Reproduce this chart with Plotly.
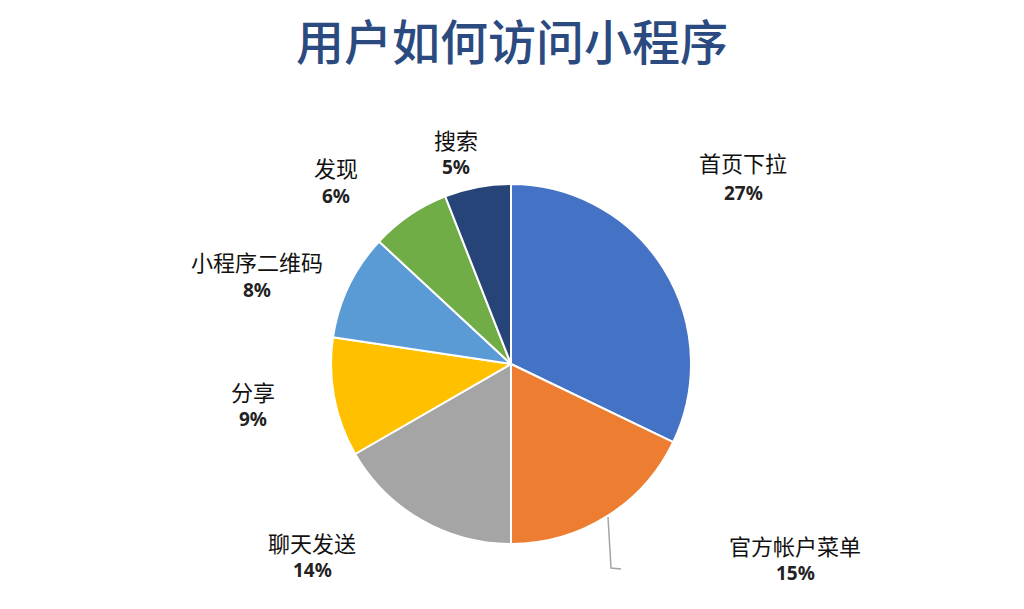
import plotly.graph_objects as go

# data
labels = ["首页下拉", "官方帐户菜单", "聊天发送", "分享", "小程序二维码", "发现", "搜索"]
values = [27, 15, 14, 9, 8, 6, 5]
colors = ["#4472C4", "#ED7D31", "#A5A5A5", "#FFC000", "#5B9BD5", "#70AD47", "#264478"]

# label placement in pixels: x centre, y of name line, y of percent line
label_px = [(743, 162, 193), (795, 545, 573), (312, 542, 570), (253, 391, 419),
            (257, 261, 290), (336, 167, 196), (456, 139, 167)]

W, H = 1024, 609

def px(x, y):
    return x / W, 1 - y / H

fig = go.Figure()
fig.add_trace(go.Pie(
    labels=labels,
    values=values,
    sort=False,
    direction="clockwise",
    rotation=0,
    marker=dict(colors=colors, line=dict(color="white", width=2)),
    textinfo="none",
    hoverinfo="label+value",
    showlegend=False,
    domain=dict(x=[331 / W, 691 / W], y=[1 - 544 / H, 1 - 184 / H]),
))

for lab, v, (x, y1, y2) in zip(labels, values, label_px):
    xa, ya = px(x, y1)
    fig.add_annotation(
        x=xa, y=ya, xref="paper", yref="paper",
        xanchor="center", yanchor="middle",
        text=lab, showarrow=False, borderpad=0,
        font=dict(size=22, color="#111111", family="Noto Sans CJK SC"),
    )
    xb, yb = px(x, y2)
    fig.add_annotation(
        x=xb, y=yb, xref="paper", yref="paper",
        xanchor="center", yanchor="middle",
        text=f"<b>{v}%</b>", showarrow=False, borderpad=0,
        font=dict(size=19, color="#222222", family="Noto Sans"),
    )

# leader line for 官方帐户菜单
x0, y0 = px(608, 517)
x1, y1 = px(611, 568)
x2, y2 = px(621, 569)
fig.add_shape(type="path", xref="paper", yref="paper",
              path=f"M {x0} {y0} L {x1} {y1} L {x2} {y2}",
              line=dict(color="#A5A5A5", width=1.5))

fig.update_layout(
    width=W, height=H,
    margin=dict(l=0, r=0, t=0, b=0),
    paper_bgcolor="white",
    plot_bgcolor="white",
    title=dict(text="用户如何访问小程序", x=512 / W, xanchor="center",
               y=1 - 43 / H, yanchor="middle",
               font=dict(size=48, color="#2B4A7F", family="Noto Sans CJK SC", weight=500)),
)

fig.write_html("out.html", config={"displayModeBar": False},
               post_script="document.body.style.margin='0';")
